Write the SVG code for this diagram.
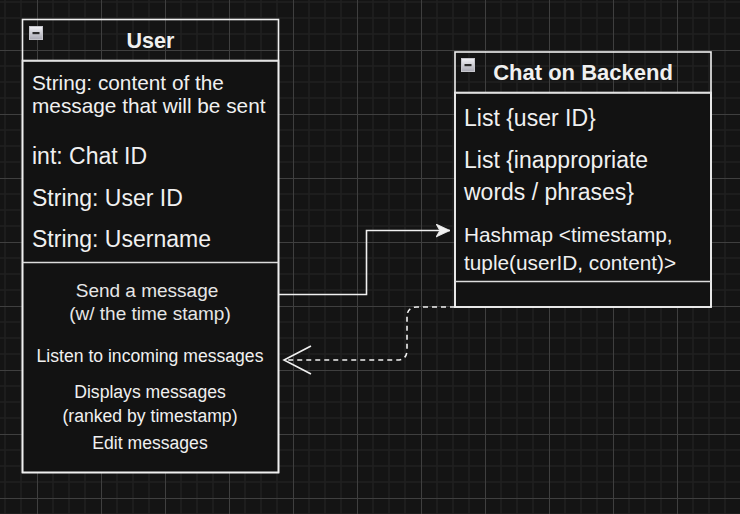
<svg xmlns="http://www.w3.org/2000/svg" width="740" height="514" viewBox="0 0 740 514">
<defs>
<pattern id="grid" patternUnits="userSpaceOnUse" x="37" y="50" width="64" height="64">
<rect x="15.25" y="0" width="1.5" height="64" fill="#1f1f1f"/>
<rect x="31.25" y="0" width="1.5" height="64" fill="#1f1f1f"/>
<rect x="47.25" y="0" width="1.5" height="64" fill="#1f1f1f"/>
<rect x="0" y="15.25" width="64" height="1.5" fill="#1f1f1f"/>
<rect x="0" y="31.25" width="64" height="1.5" fill="#1f1f1f"/>
<rect x="0" y="47.25" width="64" height="1.5" fill="#1f1f1f"/>
<rect x="0" y="0" width="1" height="64" fill="#3f3f3f"/>
<rect x="0" y="0" width="64" height="1" fill="#3f3f3f"/>
</pattern>
<linearGradient id="iconGrad" x1="0" y1="0" x2="0" y2="1">
<stop offset="0" stop-color="#f2f2f6"/>
<stop offset="1" stop-color="#a9a9b3"/>
</linearGradient>
<marker id="classic" markerUnits="userSpaceOnUse" markerWidth="16" markerHeight="15" refX="14" refY="6.5" orient="auto" viewBox="0 0 16 15">
<path d="M0,0 L14,6.5 L0,13 L3.8,6.5 Z" fill="#f0f0f0" stroke="#f0f0f0" stroke-width="0.8"/>
</marker>
<marker id="open" markerUnits="userSpaceOnUse" markerWidth="30" markerHeight="32" refX="28" refY="15" orient="auto" viewBox="0 0 30 32">
<path d="M1,1 L28,15 L1,29" fill="none" stroke="#f0f0f0" stroke-width="1.6"/>
</marker>
<style>
.box{fill:#121212;stroke:#f0f0f0;stroke-width:1.6}
.hdr{fill:none;stroke:#f0f0f0;stroke-width:1.6}
.sep{stroke:#dcdcdc;stroke-width:1.6}
.t{font-family:"Liberation Sans",Helvetica,Arial,sans-serif;fill:#f0f0f0}
.title{font-size:21.5px;font-weight:bold;text-anchor:middle}
.attr{font-size:20.8px}
.big{font-size:23px}
.meth{font-size:17.6px;text-anchor:middle}
.meth2{font-size:19px;text-anchor:middle;fill:#e6e6e6}
.icon{fill:url(#iconGrad);stroke:#c6c6cc;stroke-width:1}
.bar{fill:#2a2a2a}
.edge{fill:none;stroke:#f0f0f0;stroke-width:1.6}
</style>
</defs>
<rect x="0" y="0" width="740" height="514" fill="#141414"/>
<rect x="0" y="0" width="740" height="514" fill="url(#grid)"/>

<g id="user">
<rect class="box" x="22.5" y="60.5" width="256" height="412"/>
<rect class="hdr" x="22.5" y="19.5" width="256" height="453"/>
<line class="sep" x1="22.5" y1="61" x2="278.5" y2="61"/>
<line class="sep" x1="22.5" y1="262.5" x2="278.5" y2="262.5"/>
<rect class="icon" x="29.5" y="26.5" width="13" height="13"/>
<rect class="bar" x="32.5" y="32" width="7" height="2.2"/>
<text class="t title" x="150.5" y="48">User</text>
<text class="t attr" x="32" y="90">String: content of the</text>
<text class="t attr" x="32" y="113">message that will be sent</text>
<text class="t big" x="32" y="164">int: Chat ID</text>
<text class="t big" x="32" y="206">String: User ID</text>
<text class="t big" x="32" y="247">String: Username</text>
<text class="t meth2" x="147" y="297">Send a message</text>
<text class="t meth2" x="150" y="320">(w/ the time stamp)</text>
<text class="t meth" x="150" y="362">Listen to incoming messages</text>
<text class="t meth" x="150" y="398">Displays messages</text>
<text class="t meth" x="150" y="422">(ranked by timestamp)</text>
<text class="t meth" x="150" y="449">Edit messages</text>
</g>

<g id="chat">
<rect class="box" x="455" y="92.5" width="256" height="214.5"/>
<rect class="hdr" x="455" y="52" width="256" height="255"/>
<line class="sep" x1="455" y1="93" x2="711" y2="93"/>
<line class="sep" x1="455" y1="281.5" x2="711" y2="281.5"/>
<rect class="icon" x="461.5" y="58.5" width="13" height="13"/>
<rect class="bar" x="464.5" y="64" width="7" height="2.2"/>
<text class="t title" x="583" y="80" style="font-size:22px">Chat on Backend</text>
<text class="t big" x="464" y="126">List {user ID}</text>
<text class="t big" x="464" y="168">List {inappropriate</text>
<text class="t big" x="464" y="199.5">words / phrases}</text>
<text class="t attr" x="464" y="242">Hashmap &lt;timestamp,</text>
<text class="t attr" x="464" y="270">tuple(userID, content)&gt;</text>
</g>

<g id="connectors">
<path class="edge" d="M278.5 294.5 H366.5 V230.5 H450" marker-end="url(#classic)"/>
<path class="edge" d="M455 307 H417 Q407 307 407 317 V350 Q407 360 397 360 H284" stroke-dasharray="5 4" marker-end="url(#open)"/>
</g>
</svg>
